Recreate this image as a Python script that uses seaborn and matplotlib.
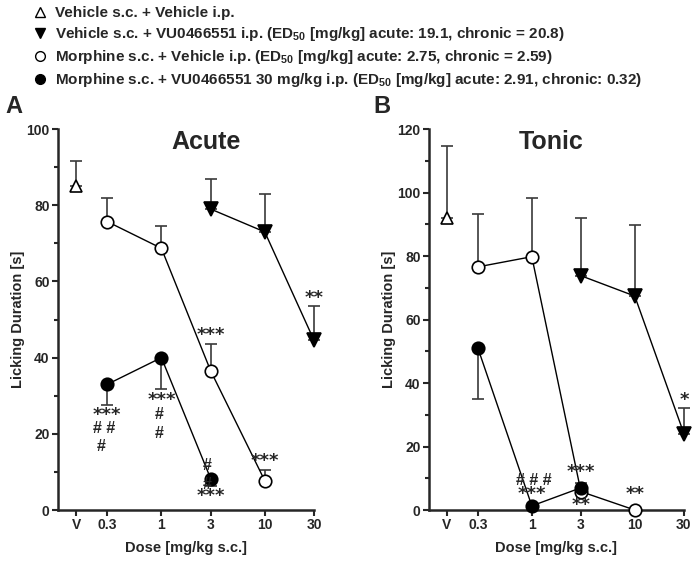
import matplotlib
matplotlib.use("Agg")
import matplotlib.pyplot as plt
from matplotlib.lines import Line2D
from matplotlib.ticker import FixedLocator, MultipleLocator
import pandas as pd
import seaborn as sns

# ---- data ----
dose_labels = ["V", "0.3", "1", "3", "10", "30"]
dose_values = [0.15, 0.3, 1, 3, 10, 30]

group_names = [
    "Vehicle s.c. + Vehicle i.p.",
    "Vehicle s.c. + VU0466551 i.p. (ED$_\\mathbf{50}$ [mg/kg] acute: 19.1, chronic = 20.8)",
    "Morphine s.c. + Vehicle i.p. (ED$_\\mathbf{50}$ [mg/kg] acute: 2.75, chronic = 2.59)",
    "Morphine s.c. + VU0466551 30 mg/kg i.p. (ED$_\\mathbf{50}$ [mg/kg] acute: 2.91, chronic: 0.32)",
]

veh_veh_doses = [0.15]
veh_vu_doses = [3, 10, 30]
mor_veh_doses = [0.3, 1, 3, 10]
mor_vu_doses = [0.3, 1, 3]

# acute
acute_veh_veh = [85.0]
acute_veh_veh_hi = [6.5]
acute_veh_vu = [79.0, 73.0, 44.5]
acute_veh_vu_hi = [8.0, 10.0, 9.0]
acute_mor_veh = [75.7, 68.7, 36.5, 7.7]
acute_mor_veh_hi = [6.3, 5.9, 7.1, 2.8]
acute_mor_vu = [33.0, 40.0, 8.2]
acute_mor_vu_lo = [5.5, 8.2, 1.9]

# tonic
tonic_veh_veh = [92.0]
tonic_veh_veh_hi = [22.6]
tonic_veh_vu = [73.8, 67.4, 24.1]
tonic_veh_vu_hi = [18.2, 22.4, 7.9]
tonic_mor_veh = [76.6, 79.8, 5.8, 0.0]
tonic_mor_veh_hi = [16.6, 18.6, 0.0, 0.0]
tonic_mor_vu = [50.9, 1.3, 7.0]
tonic_mor_vu_lo = [15.9, 0.0, 0.0]
tonic_mor_vu_hi = [0.0, 0.0, 1.6]

# significance marks: (dose, y, text)
acute_marks = [
    (0.3, 25.0, "***"), (0.28, 21.5, "# #"), (0.26, 16.6, "#"),
    (1, 29.0, "***"), (0.95, 25.0, "#"), (0.95, 20.0, "#"),
    (2.8, 11.8, "#"), (2.8, 6.6, "#"), (3, 3.6, "***"),
    (3, 46.0, "***"), (10, 12.9, "***"), (30, 55.7, "**"),
]
tonic_marks = [
    (1.05, 9.2, "# # #"), (1, 5.0, "***"),
    (3, 12.0, "***"), (3, 1.7, "**"),
    (10, 4.9, "**"), (30, 34.5, "*"),
]

# ---- style ----
sns.set_theme(style="ticks")
plt.rcParams['font.family'] = ['Liberation Sans', 'DejaVu Sans']
plt.rcParams['font.weight'] = 'bold'
plt.rcParams['mathtext.fontset'] = 'custom'
plt.rcParams['mathtext.bf'] = 'Liberation Sans:bold'
plt.rcParams['mathtext.rm'] = 'Liberation Sans:bold'

styles = [
    dict(marker="^", mfc="white", mec="black", ms=9),
    dict(marker="v", mfc="black", mec="black", ms=10),
    dict(marker="o", mfc="white", mec="black", ms=9),
    dict(marker="o", mfc="black", mec="black", ms=9),
]
err_color = "#3a3a3a"


def draw_panel(ax, series, marks, ymax, title, title_x):
    for i, (doses, vals, lo, hi) in enumerate(series):
        st = styles[i]
        df = pd.DataFrame({"dose": doses, "value": vals})
        ax.errorbar(doses, vals, yerr=[lo, hi], fmt="none", ecolor=err_color,
                    elinewidth=1.2, capsize=4, capthick=1.2, zorder=2,
                    clip_on=False)
        sns.lineplot(data=df, x="dose", y="value", ax=ax, color="black",
                     linewidth=1.0, marker=st["marker"],
                     markerfacecolor=st["mfc"], markeredgecolor=st["mec"],
                     markeredgewidth=1.2, markersize=st["ms"], zorder=3 + i,
                     clip_on=False, legend=False)
    for d, y, txt in marks:
        if "*" in txt:
            ax.text(d, y, txt, ha="center", va="center", fontsize=13,
                    fontweight="bold", family="DejaVu Sans", zorder=10)
        else:
            ax.text(d, y, txt, ha="center", va="center", fontsize=11.5,
                    fontweight="bold", zorder=10)
    ax.set_xscale("log")
    ax.set_xlim(0.1, 30)
    ax.set_ylim(0, ymax)
    ax.xaxis.set_major_locator(FixedLocator(dose_values))
    ax.xaxis.set_minor_locator(FixedLocator([]))
    ax.set_xticklabels(dose_labels)
    ax.yaxis.set_major_locator(MultipleLocator(20))
    ax.yaxis.set_minor_locator(MultipleLocator(10))
    ax.tick_params(axis="both", which="major", length=4, width=1.5,
                   labelsize=10, pad=2)
    ax.tick_params(axis="y", which="minor", length=3, width=1.5)
    for lab in ax.get_xticklabels() + ax.get_yticklabels():
        lab.set_fontweight("bold")
    for s in ["left", "bottom"]:
        ax.spines[s].set_linewidth(1.8)
    sns.despine(ax=ax)
    ax.set_xlabel("Dose [mg/kg s.c.]", fontsize=10.5, fontweight="bold",
                  labelpad=6)
    ax.set_ylabel("Licking Duration [s]", fontsize=10.5, fontweight="bold",
                  labelpad=1)
    ax.text(title_x, 0.965, title, transform=ax.transAxes, fontsize=18,
            fontweight="bold", ha="center", va="center")


fig = plt.figure(figsize=(6.94, 5.61), dpi=100)
ax_a = fig.add_axes([0.0836, 0.0909, 0.369, 0.679])
ax_b = fig.add_axes([0.618, 0.0909, 0.3674, 0.679])

acute_series = [
    (veh_veh_doses, acute_veh_veh, [0.0], acute_veh_veh_hi),
    (veh_vu_doses, acute_veh_vu, [0.0] * 3, acute_veh_vu_hi),
    (mor_veh_doses, acute_mor_veh, [0.0] * 4, acute_mor_veh_hi),
    (mor_vu_doses, acute_mor_vu, acute_mor_vu_lo, [0.0] * 3),
]
tonic_series = [
    (veh_veh_doses, tonic_veh_veh, [0.0], tonic_veh_veh_hi),
    (veh_vu_doses, tonic_veh_vu, [0.0] * 3, tonic_veh_vu_hi),
    (mor_veh_doses, tonic_mor_veh, [0.0] * 4, tonic_mor_veh_hi),
    (mor_vu_doses, tonic_mor_vu, tonic_mor_vu_lo, tonic_mor_vu_hi),
]

draw_panel(ax_a, acute_series, acute_marks, 100, "Acute", 0.58)
draw_panel(ax_b, tonic_series, tonic_marks, 120, "Tonic", 0.48)

fig.text(0.02, 0.81, "A", fontsize=17, fontweight="bold", ha="center",
         va="center")
fig.text(0.55, 0.81, "B", fontsize=17, fontweight="bold", ha="center",
         va="center")

handles = [Line2D([], [], linestyle="none", marker=st["marker"],
                  markerfacecolor=st["mfc"], markeredgecolor=st["mec"],
                  markersize=7, markeredgewidth=1.0) for st in styles]
fig.legend(handles, group_names, loc="upper left",
           bbox_to_anchor=(0.031, 1.008), frameon=False, fontsize=11,
           handlelength=1.0, handletextpad=0.5, labelspacing=0.32,
           borderpad=0.2)

fig.savefig("out.png", dpi=100)
